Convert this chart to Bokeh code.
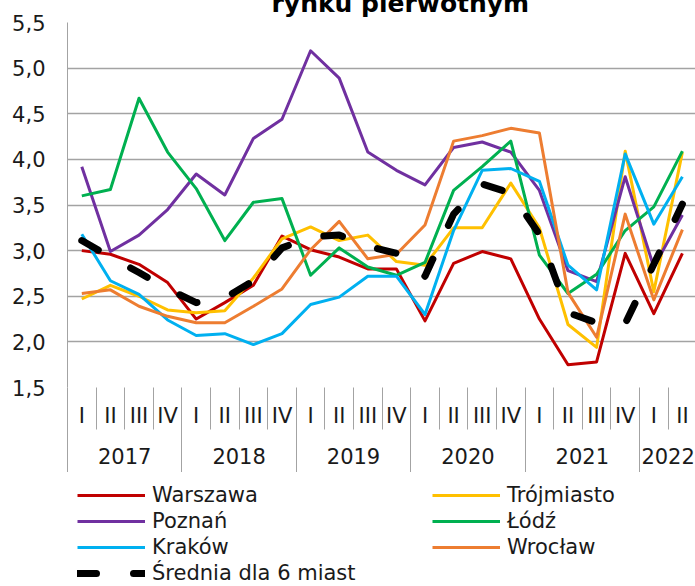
from bokeh.plotting import figure
from bokeh.layouts import column
from bokeh.models import (Range1d, LinearAxis, FixedTicker, CustomJSTickFormatter,
                          Legend, LegendItem, Title)
from bokeh.embed import file_html
from bokeh.resources import INLINE

# ---------------- data ----------------
quarters = ["I", "II", "III", "IV", "I", "II", "III", "IV", "I", "II", "III", "IV",
            "I", "II", "III", "IV", "I", "II", "III", "IV", "I", "II"]
years = ["2017", "2018", "2019", "2020", "2021", "2022"]
quarters_per_year = [4, 4, 4, 4, 4, 2]

warszawa = [3.00, 2.96, 2.85, 2.65, 2.25, 2.43, 2.62, 3.16, 3.01, 2.93, 2.80,
            2.80, 2.23, 2.86, 2.99, 2.91, 2.25, 1.75, 1.78, 2.97, 2.31, 2.97]
trojmiasto = [2.47, 2.62, 2.50, 2.35, 2.32, 2.34, 2.70, 3.13, 3.26, 3.11, 3.17,
              2.88, 2.84, 3.25, 3.25, 3.74, 3.25, 2.19, 1.94, 4.09, 2.55, 4.08]
poznan = [3.92, 2.99, 3.17, 3.45, 3.84, 3.61, 4.23, 4.44, 5.19, 4.89, 4.08,
          3.88, 3.72, 4.13, 4.19, 4.08, 3.66, 2.78, 2.66, 3.81, 2.82, 3.39]
lodz = [3.60, 3.67, 4.67, 4.08, 3.68, 3.11, 3.53, 3.57, 2.73, 3.03, 2.82,
        2.73, 2.87, 3.66, 3.92, 4.20, 2.95, 2.53, 2.74, 3.22, 3.48, 4.09]
krakow = [3.18, 2.67, 2.52, 2.24, 2.07, 2.09, 1.97, 2.09, 2.41, 2.49, 2.72,
          2.72, 2.30, 3.22, 3.88, 3.90, 3.76, 2.84, 2.57, 4.06, 3.29, 3.81]
wroclaw = [2.53, 2.57, 2.39, 2.28, 2.21, 2.21, 2.39, 2.58, 3.01, 3.32, 2.91,
           2.96, 3.28, 4.20, 4.26, 4.34, 4.29, 2.54, 2.05, 3.40, 2.46, 3.23]
srednia = [3.11, 2.93, 2.76, 2.58, 2.43, 2.48, 2.67, 3.03, 3.15, 3.17, 3.05,
           2.97, 2.72, 3.40, 3.73, 3.63, 3.18, 2.32, 2.21, 2.20, 2.85, 3.51]

series_names = ["Warszawa", "Trójmiasto", "Poznań", "Łódź", "Kraków", "Wrocław"]
series_values = [warszawa, trojmiasto, poznan, lodz, krakow, wroclaw]
series_colors = ["#c00000", "#ffc000", "#7030a0", "#00b050", "#00b0f0", "#ed7d31"]
avg_name = "Średnia dla 6 miast"

y_ticks = [1.5, 2.0, 2.5, 3.0, 3.5, 4.0, 4.5, 5.0, 5.5]
y_labels = ["1,5", "2,0", "2,5", "3,0", "3,5", "4,0", "4,5", "5,0", "5,5"]
title_text = "rynku pierwotnym"

# ---------------- derived positions (category slots) ----------------
n = len(quarters)
x = [i + 0.5 for i in range(n)]
q_bounds = list(range(n + 1))
y_bounds = [0]
for k in quarters_per_year:
    y_bounds.append(y_bounds[-1] + k)
y_centers = [(a + b) / 2 for a, b in zip(y_bounds[:-1], y_bounds[1:])]

FONT = "DejaVu Sans"
TXT = "#1a1a1a"
GRID = "#a3a3a3"

FRAME_W = 628
SLOT = 28.6

p = figure(frame_width=FRAME_W, frame_height=365,
           min_border_left=67, min_border_right=0, min_border_top=22,
           min_border_bottom=85,
           x_range=Range1d(0, FRAME_W / SLOT), y_range=Range1d(1.5, 5.5),
           x_axis_location=None, y_axis_location="left",
           toolbar_location=None, output_backend="svg")
p.outline_line_color = None
p.background_fill_color = "white"
p.border_fill_color = "white"

# spacer next to the frame, then the title above it (its top is cut off by the page edge)
spacer = Title(text=" ", text_font=FONT, text_font_size="8px", standoff=3)
p.add_layout(spacer, "above")
t = Title(text=title_text, align="left", offset=204, vertical_align="top",
          standoff=-23, text_font=FONT, text_font_size="25px",
          text_font_style="bold", text_color="black")
p.add_layout(t, "above")

# y axis
yax = p.yaxis[0]
yax.ticker = FixedTicker(ticks=y_ticks)
yax.formatter = CustomJSTickFormatter(args=dict(vals=y_ticks, labels=y_labels),
                                      code="return labels[vals.indexOf(tick)]")
yax.major_tick_out = 0
yax.major_tick_in = 0
yax.minor_tick_out = 0
yax.minor_tick_in = 0
yax.axis_line_color = GRID
yax.axis_line_width = 1
yax.major_label_standoff = 22
yax.major_label_text_font = FONT
yax.major_label_text_font_size = "21px"
yax.major_label_text_color = TXT

p.xgrid.visible = False
p.ygrid.ticker = FixedTicker(ticks=y_ticks)
p.ygrid.grid_line_color = GRID
p.ygrid.grid_line_width = 1.5

# quarter axis (labels + short separators)
axq = LinearAxis(ticker=FixedTicker(ticks=x, minor_ticks=q_bounds),
                 formatter=CustomJSTickFormatter(args=dict(vals=x, labels=quarters),
                                                 code="return labels[vals.indexOf(tick)]"))
axq.major_tick_out = 0
axq.major_tick_in = 0
axq.minor_tick_out = 42
axq.minor_tick_in = 0
axq.minor_tick_line_color = GRID
axq.axis_line_color = None
axq.major_label_standoff = -26
axq.major_label_text_font = FONT
axq.major_label_text_font_size = "21px"
axq.major_label_text_color = TXT
p.add_layout(axq, "below")

# year axis (labels + long separators)
axy = LinearAxis(ticker=FixedTicker(ticks=y_centers, minor_ticks=y_bounds),
                 formatter=CustomJSTickFormatter(args=dict(vals=y_centers, labels=years),
                                                 code="return labels[vals.indexOf(tick)]"))
axy.major_tick_out = 0
axy.major_tick_in = 0
axy.minor_tick_out = 43
axy.minor_tick_in = 36
axy.minor_tick_line_color = GRID
axy.axis_line_color = None
axy.major_label_standoff = -26
axy.major_label_text_font = FONT
axy.major_label_text_font_size = "21px"
axy.major_label_text_color = TXT
p.add_layout(axy, "below")

# data lines
line_styles = [dict(line_color=c, line_width=3, line_join="round") for c in series_colors]
avg_style = dict(line_color="black", line_width=7, line_dash="19 37",
                 line_cap="round", line_join="round")
for vals, st in zip(series_values, line_styles):
    p.line(x, vals, **st)
p.line(x, srednia, **avg_style)

# legend strip under the chart: same series drawn with the same styles,
# kept out of view of this strip's ranges, only their legend entries show
pl = figure(width=695, height=114, min_border=0, min_border_left=0,
            x_range=Range1d(0, 1), y_range=Range1d(-2, -1),
            x_axis_location=None, y_axis_location=None,
            toolbar_location=None, output_backend="svg")
pl.outline_line_color = None
pl.grid.visible = False
pl.background_fill_color = "white"
pl.border_fill_color = "white"
items = []
for name, vals, st in zip(series_names + [avg_name], series_values + [srednia],
                          line_styles + [avg_style]):
    r = pl.line(x, vals, **st)
    items.append(LegendItem(label=name, renderers=[r]))

legend = Legend(items=items, location="top_left", orientation="horizontal", ncols=2,
                glyph_width=68, glyph_height=26, label_height=26, label_width=280,
                label_standoff=7, spacing=0, padding=0, margin=10,
                border_line_color=None, background_fill_alpha=0,
                label_text_font=FONT, label_text_font_size="21px",
                label_text_color=TXT)
pl.add_layout(legend)

layout = column(p, pl, spacing=0)
open("out.html", "w").write(file_html(layout, INLINE))
